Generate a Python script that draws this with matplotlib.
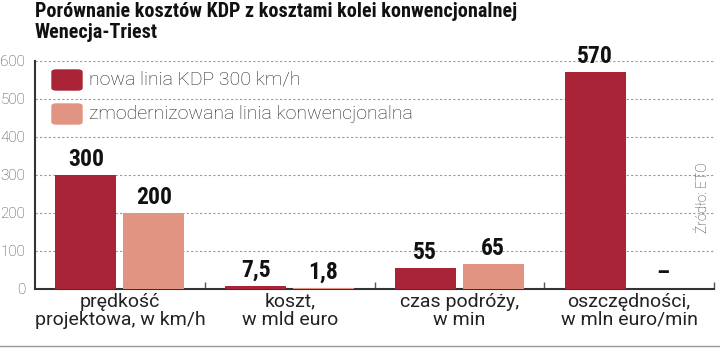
import numpy as np
import matplotlib.pyplot as plt
from matplotlib.patches import FancyBboxPatch

# data
categories = ['prędkość\nprojektowa, w km/h', 'koszt,\nw mld euro',
              'czas podróży,\nw min', 'oszczędności,\nw mln euro/min']
kdp = [300, 7.5, 55, 570]
konw = [200, 1.8, 65, np.nan]
kdp_labels = ['300', '7,5', '55', '570']
konw_labels = ['200', '1,8', '65', '–']
series_names = ['nowa linia KDP 300 km/h', 'zmodernizowana linia konwencjonalna']
yticks = [0, 100, 200, 300, 400, 500, 600]

c_dark = '#a82436'
c_light = '#e19482'
narrow = ['Roboto Condensed', 'DejaVu Sans']
light = ['Roboto', 'DejaVu Sans']

fig = plt.figure(figsize=(7.2, 3.49), dpi=100)
ax = fig.add_axes([35/720, 60/349, 679/720, 228/349])

x = np.arange(len(categories))
w = 0.36
off = 0.2
ax.bar(x - off, kdp, width=w, color=c_dark, zorder=3)
ax.bar(x + off, np.nan_to_num(konw), width=w, color=c_light, zorder=3)

for i in range(len(categories)):
    ax.annotate(kdp_labels[i], (x[i] - off, kdp[i]), xytext=(0, 3),
                textcoords='offset points', ha='center', va='bottom',
                fontsize=17, fontweight='bold', family=narrow, color='#111')
    v = 0 if np.isnan(konw[i]) else konw[i]
    ax.annotate(konw_labels[i], (x[i] + off, v), xytext=(0, 3),
                textcoords='offset points', ha='center', va='bottom',
                fontsize=17, fontweight='bold', family=narrow, color='#111')

ax.set_xlim(-0.5, len(categories) - 0.5)
ax.set_ylim(0, 600)
ax.set_yticks(yticks)
ax.tick_params(axis='y', length=0, pad=7, labelsize=11, labelcolor='#444')
for lab in ax.get_yticklabels():
    lab.set_family(light)
    lab.set_fontweight('light')
ax.set_xticks(np.arange(len(categories)) + 0.5)
ax.set_xticklabels([])
ax.tick_params(axis='x', direction='in', length=5, width=1, color='#555')
ax.grid(axis='y', color='#999999', linestyle=(0, (2, 2)), linewidth=0.8, zorder=0)
for sp in ['top', 'right']:
    ax.spines[sp].set_visible(False)
for sp in ['left', 'bottom']:
    ax.spines[sp].set_color('#333333')
    ax.spines[sp].set_linewidth(1.5)

for i, cat in enumerate(categories):
    ax.text(x[i], -10, cat, ha='center', va='top', fontsize=14,
            family=light, color='#222', linespacing=1.0,
            transform=ax.transData)

# legend
for j, (name, col) in enumerate(zip(series_names, [c_dark, c_light])):
    y0 = 1 - (70 + j * 34 + 20) / 349
    fig.patches.append(FancyBboxPatch((52/720, y0), 30/720, 20/349,
                       boxstyle='round,pad=0,rounding_size=0.006',
                       transform=fig.transFigure, color=col))
    fig.text(89/720, y0 + 10/349, name, ha='left', va='center',
             fontsize=14, family=light, fontweight='light', color='#222')

fig.text(35/720, 1 - 2/349, 'Porównanie kosztów KDP z kosztami kolei konwencjonalnej\nWenecja-Triest',
         ha='left', va='top', fontsize=14.5, fontweight='bold', family=narrow,
         color='#111', linespacing=1.12)
fig.text(703/720, 1 - 198/349, 'Źródło: ETO', rotation=90, ha='center', va='center',
         fontsize=10, family=light, fontweight='light', color='#333')
fig.add_artist(plt.Line2D([0, 1], [3/349, 3/349], color='#999', lw=1))

fig.savefig('out.png', dpi=100)
